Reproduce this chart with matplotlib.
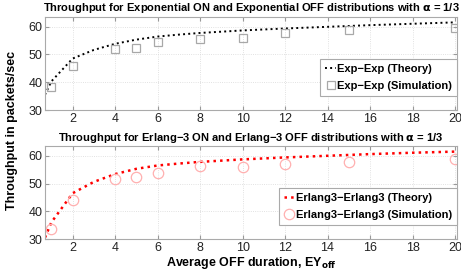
import matplotlib
matplotlib.use("Agg")
import matplotlib.pyplot as plt

plt.rcParams['font.family'] = ['Liberation Sans', 'DejaVu Sans']

# theory curves
x_th = [0.7, 1, 2, 3, 4, 5, 6, 7, 8, 10, 12, 14, 16, 18, 20]
exp_th = [35.5, 40.3, 48.5, 51.6, 53.8, 55.3, 56.4, 57.1, 57.7, 58.6, 59.3, 59.9, 60.5, 61.0, 61.5]
erl_th = [30.5, 36.0, 46.5, 50.6, 53.4, 55.3, 56.5, 57.2, 57.8, 58.7, 59.4, 60.0, 60.6, 61.1, 61.5]

# simulation points
x_sim = [1, 2, 4, 5, 6, 8, 10, 12, 15, 20]
exp_sim = [38.2, 46.0, 51.8, 52.3, 54.6, 55.6, 56.0, 57.5, 58.9, 59.4]
erl_sim = [33.5, 44.2, 51.5, 52.5, 53.7, 56.2, 56.0, 57.0, 57.9, 58.8]

xticks = [2, 4, 6, 8, 10, 12, 14, 16, 18, 20]
yticks = [30, 40, 50, 60]

fig = plt.figure(figsize=(4.61, 2.71), dpi=100)
ax1 = fig.add_axes([0.0976, 0.594, 0.894, 0.344])
ax2 = fig.add_axes([0.0976, 0.118, 0.894, 0.343])

panels = [
    (ax1, exp_th, exp_sim, 'k', 's', '#a8a8a8', 5.5, 1.4,
     'Exp\u2212Exp (Theory)', 'Exp\u2212Exp (Simulation)',
     r'Throughput for Exponential ON and Exponential OFF distributions with $\mathbf{\alpha}$ = 1/3'),
    (ax2, erl_th, erl_sim, 'red', 'o', '#ffb0b0', 7.5, 1.8,
     'Erlang3\u2212Erlang3 (Theory)', 'Erlang3\u2212Erlang3 (Simulation)',
     'Throughput for Erlang\u22123 ON and Erlang\u22123 OFF distributions with $\\mathbf{\\alpha}$ = 1/3'),
]

for ax, th, sim, lc, mk, mc, ms, lw, lab_th, lab_sim, title in panels:
    ax.plot(x_th, th, linestyle=':', color=lc, lw=lw, label=lab_th)
    ax.plot(x_sim, sim, linestyle='none', marker=mk, ms=ms, mfc='none',
            mec=mc, mew=0.9, label=lab_sim)
    ax.set_xlim(0.7, 20.1)
    ax.set_ylim(30, 63.5)
    ax.set_xticks(xticks)
    ax.set_yticks(yticks)
    ax.grid(True, linestyle=':', color='#d8d8d8', lw=0.6)
    ax.tick_params(direction='in', labelsize=9, length=3, color='#999999',
                   top=True, right=True, pad=2, labelcolor='#222222')
    for s in ax.spines.values():
        s.set_color('#aaaaaa')
        s.set_linewidth(0.8)
    ax.set_title(title, fontsize=8, fontweight='bold', pad=4)
    leg = ax.legend(loc='center right', bbox_to_anchor=(1.0, 0.35), borderaxespad=0,
                    fancybox=False, framealpha=1, edgecolor='#aaaaaa',
                    prop={'weight': 'bold', 'size': 8}, handlelength=1.0,
                    handletextpad=0.1, borderpad=0.45, labelspacing=0.6)
    leg.get_frame().set_linewidth(0.8)

ax2.set_xlabel(r'Average OFF duration, EY$_{\mathbf{off}}$', fontsize=9, fontweight='bold', labelpad=1)
fig.text(0.027, 0.52, 'Throughput in packets/sec', rotation=90, ha='center', va='center',
         fontsize=9, fontweight='bold')

fig.savefig('out.png', dpi=100)
